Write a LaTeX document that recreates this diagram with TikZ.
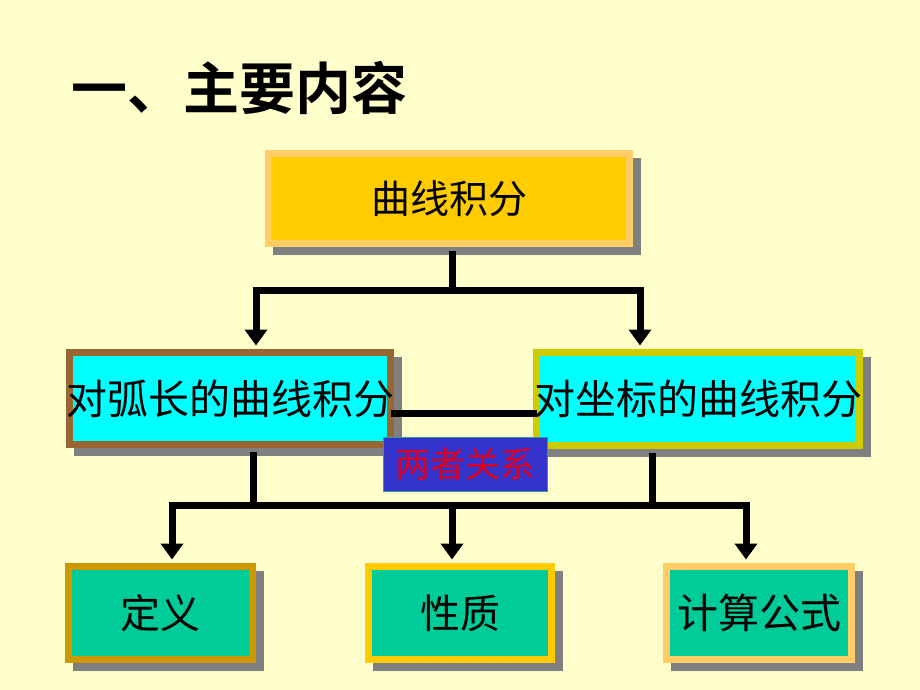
\documentclass[tikz,border=0pt]{standalone}
\usepackage{fontspec}
\newfontfamily\cjk{Noto Sans CJK SC}
\newfontfamily\cjkb{Noto Sans CJK SC Bold}
\usetikzlibrary{arrows.meta,shadows}
\definecolor{bg}{HTML}{FFFFCC}
\definecolor{topfill}{HTML}{FFCC00}
\definecolor{topborder}{HTML}{FFCC66}
\definecolor{cyanfill}{HTML}{00FFFF}
\definecolor{brownborder}{HTML}{996633}
\definecolor{oliveborder}{HTML}{CCCC00}
\definecolor{greenfill}{HTML}{00CC99}
\definecolor{goldborder}{HTML}{CC9900}
\definecolor{relfill}{HTML}{3333CC}
\definecolor{relborder}{HTML}{339999}
\definecolor{reltext}{HTML}{DD0022}
\definecolor{shadowgray}{HTML}{808080}
\tikzset{
  boxstyle/.style={rectangle, line width=7pt, inner sep=0pt, font=\cjk\fontsize{40}{44}\selectfont,
    drop shadow={shadow xshift=8pt, shadow yshift=-8pt, fill=shadowgray, draw=shadowgray, line width=7pt, opacity=1}},
  conn/.style={line width=7pt, black},
  arr/.style={conn, -{Triangle[width=22pt,length=16pt]}, shorten >=3.5pt},
}
\begin{document}
\begin{tikzpicture}[x=1pt,y=-1pt]
\fill[bg] (0,0) rectangle (920,690);
\useasboundingbox (0,0) rectangle (920,690);
\node[anchor=center, inner sep=0pt, font=\cjkb\fontsize{56}{60}\selectfont] (title) at (239,88) {一、主要内容};
\node[boxstyle, fill=topfill, draw=topborder, minimum width=361pt, minimum height=90pt, font=\cjk\fontsize{39}{44}\selectfont] (top) at (449,198.5) {曲线积分};
\node[boxstyle, fill=cyanfill, draw=brownborder, minimum width=321pt, minimum height=92pt, font=\cjk\fontsize{41}{44}\selectfont] (left) at (230,398.5) {\makebox[0pt]{对弧长的曲线积分}};
\node[boxstyle, fill=cyanfill, draw=oliveborder, minimum width=323pt, minimum height=93pt, font=\cjk\fontsize{41}{44}\selectfont] (right) at (698,399) {\makebox[0pt]{对坐标的曲线积分}};
\node[boxstyle, fill=greenfill, draw=goldborder, minimum width=184pt, minimum height=93pt] (def) at (160.5,613) {定义};
\node[boxstyle, fill=greenfill, draw=topfill, minimum width=183pt, minimum height=93pt] (prop) at (460,613) {性质};
\node[boxstyle, fill=greenfill, draw=topborder, minimum width=185pt, minimum height=93pt, font=\cjk\fontsize{41}{44}\selectfont] (calc) at (759,613) {\makebox[0pt]{计算公式}};
% connectors top
\coordinate (j1) at (452,290);
\coordinate (jl) at (256,290);
\coordinate (jr) at (640,290);
\draw[conn, shorten <=3.5pt] (top.south -| j1) -- (j1);
\draw[conn, line cap=rect] (jl) -- (jr);
\draw[arr] (jl) -- (left.north -| jl);
\draw[arr] (jr) -- (right.north -| jr);
% middle link
\coordinate (m) at (0,413);
\draw[conn, shorten <=-3.5pt, shorten >=-3.5pt] (left.east |- m) -- (right.west |- m);
% relation box
\node[rectangle, fill=relfill, draw=relborder, line width=1.2pt, minimum width=164pt, minimum height=54pt, inner sep=0pt,
  text=reltext, font=\cjk\fontsize{35}{40}\selectfont] (rel) at (465.5,464.5) {两者关系};
% lower connectors
\coordinate (dl) at (253,505);
\coordinate (dr) at (652,505);
\coordinate (b1) at (172,505);
\coordinate (b2) at (452,505);
\coordinate (b3) at (746,505);
\draw[conn, shorten <=3.5pt] (left.south -| dl) -- (dl);
\draw[conn, shorten <=3.5pt] (right.south -| dr) -- (dr);
\draw[conn, line cap=rect] (b1) -- (b3);
\draw[arr] (b1) -- (def.north -| b1);
\draw[arr] (b2) -- (prop.north -| b2);
\draw[arr] (b3) -- (calc.north -| b3);
\end{tikzpicture}
\end{document}
